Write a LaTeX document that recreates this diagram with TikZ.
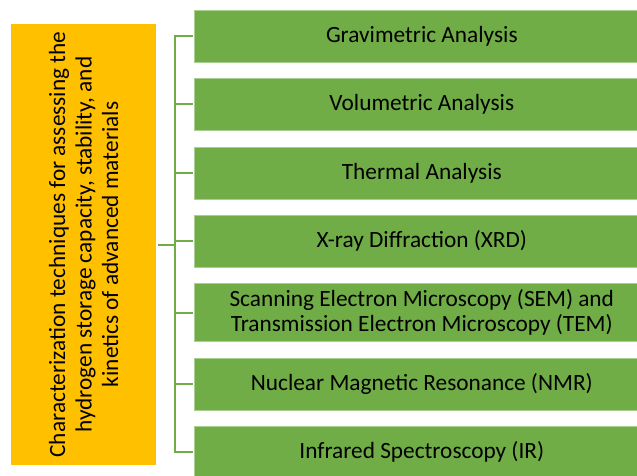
\documentclass[tikz,border=0pt]{standalone}
\usepackage{fontspec}
\setmainfont{Carlito}
\definecolor{gbox}{HTML}{70AD47}
\definecolor{obox}{HTML}{FFC000}
\begin{document}
\begin{tikzpicture}[x=1pt,y=-1pt,
  item/.style={fill=gbox,draw=gbox!60!white,line width=0.6pt,minimum width=455pt,minimum height=52pt,inner sep=0pt,
    font=\fontsize{23.3}{25.5}\selectfont,align=center,anchor=west},
  link/.style={draw=gbox,line width=2pt}]
\useasboundingbox (0,0) rectangle (637,475);
\node[fill=obox,minimum width=145pt,minimum height=441pt,inner sep=0pt] (main) at (83.5,244.5) {};
\node[rotate=90,align=center,font=\fontsize{23.3}{26.5}\selectfont] (mainlabel) at (main.center)
  {Characterization techniques for assessing the\\hydrogen storage capacity, stability, and\\kinetics of advanced materials};
\node[item] (b1) at (194,36) {Gravimetric Analysis};
\node[item] (b2) at (194,104.3) {Volumetric Analysis};
\node[item] (b3) at (194,172.8) {Thermal Analysis};
\node[item] (b4) at (194,240.8) {X-ray Diffraction (XRD)};
\node[item,minimum height=58pt] (b5) at (194,312.5) {Scanning Electron Microscopy (SEM) and\\Transmission Electron Microscopy (TEM)};
\node[item] (b6) at (194,384.2) {Nuclear Magnetic Resonance (NMR)};
\node[item] (b7) at (194,452) {Infrared Spectroscopy (IR)};
\foreach \i in {1,...,7}{
  \draw[link] ([xshift=2pt]main.east) -- ++(17,0) |- ([xshift=-1pt]b\i.west);
}
\end{tikzpicture}
\end{document}
